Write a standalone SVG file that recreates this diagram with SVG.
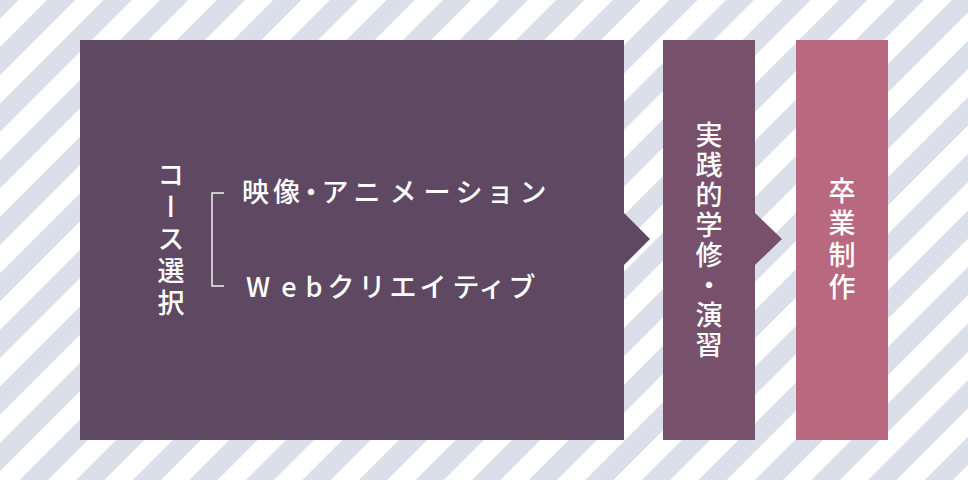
<svg xmlns="http://www.w3.org/2000/svg" width="968" height="480" viewBox="0 0 968 480">
  <style>
    .t { font-family: "Noto Sans CJK JP", "Noto Sans", sans-serif; font-size: 27px; font-weight: 500; fill: #ffffff; }
    .h { text-anchor: middle; }
    .v { writing-mode: vertical-rl; glyph-orientation-vertical: auto; }
    .b1 { fill: #5f4962; }
    .b2 { fill: #77506b; }
    .b3 { fill: #b8697f; }
    .bracket { fill: none; stroke: #f2eff3; stroke-width: 1.5; }
  </style>
  <defs>
    <pattern id="stripes" patternUnits="userSpaceOnUse" x="33.23" y="0" width="40" height="40" patternTransform="rotate(45)">
      <rect x="0" y="0" width="20" height="40" fill="#dbdfe9"/>
    </pattern>
  </defs>
  <rect x="0" y="0" width="968" height="480" fill="#ffffff"/>
  <rect x="0" y="0" width="968" height="480" fill="url(#stripes)"/>

  <g id="connectors">
    <polygon class="b1" points="623,212 650,239 623,266"/>
    <polygon class="b2" points="754,212 782,239 754,266"/>
  </g>

  <g id="node-course">
    <rect class="b1" x="80" y="40" width="544" height="400"/>
    <text class="t v" x="171" y="161.5" letter-spacing="5">コース選択</text>
    <path class="bracket" d="M224,193 H212 V286 H224"/>
    <text class="t h" x="255.5 286.5 311 335 367 403 437 469 500 533" y="201.5">映像・アニメーション</text>
    <text class="t h" x="258 289 314 341 372 403 433 466 492 522" y="297">Webクリエイティブ</text>
  </g>

  <g id="node-practice">
    <rect class="b2" x="663" y="40" width="92" height="400"/>
    <text class="t v" x="709" y="121" letter-spacing="3">実践的学修・演習</text>
  </g>

  <g id="node-graduation">
    <rect class="b3" x="796" y="40" width="92" height="400"/>
    <text class="t v" x="842" y="177.3" letter-spacing="5">卒業制作</text>
  </g>
</svg>
